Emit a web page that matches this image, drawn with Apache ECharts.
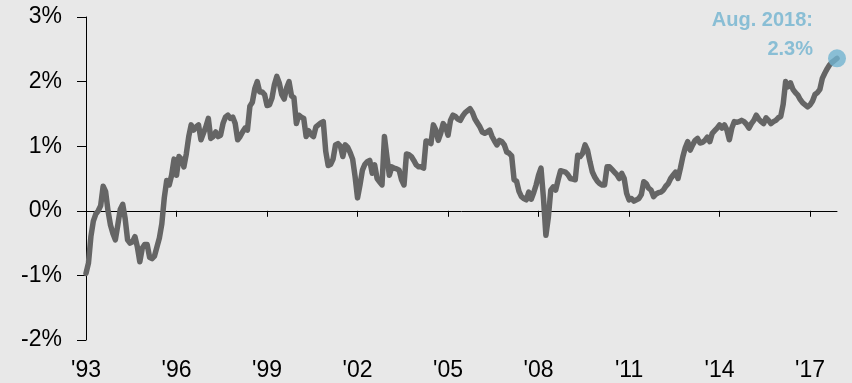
<!DOCTYPE html>
<html>
<head>
<meta charset="utf-8">
<script src="https://cdn.jsdelivr.net/npm/echarts@6/dist/echarts.min.js"></script>
<style>
  html, body { margin: 0; padding: 0; background: #e8e8e8; }
  #chart { width: 852px; height: 383px; }
</style>
</head>
<body>
<div id="chart"></div>
<script>
// monthly, Jan 1993 .. Aug 2018
var startYear = 1993;
var monthCount = 308;
var categories = [];
for (var k = 0; k < monthCount; k++) {
    var yy = startYear + Math.floor(k / 12);
    var mm = (k % 12) + 1;
    categories.push(yy + '-' + (mm < 10 ? '0' + mm : mm));
}

var tickLabels = ["'93", "'96", "'99", "'02", "'05", "'08", "'11", "'14", "'17"];
var tickEvery = 37;

var values = [
    -0.97, -0.81, -0.40, -0.16, -0.05, 0.00, 0.08, 0.38, 0.30, 0.00, -0.22, -0.35,   // 1993
    -0.45, -0.22, 0.02, 0.10, -0.12, -0.45, -0.50, -0.48, -0.40, -0.56, -0.79, -0.58, // 1994
    -0.52, -0.52, -0.72, -0.74, -0.70, -0.56, -0.42, -0.20, 0.20, 0.47, 0.40, 0.55,  // 1995
    0.80, 0.55, 0.84, 0.80, 0.68, 0.88, 1.15, 1.33, 1.25, 1.30, 1.33, 1.10,          // 1996
    1.20, 1.30, 1.43, 1.12, 1.15, 1.22, 1.15, 1.17, 1.35, 1.45, 1.48, 1.43,          // 1997
    1.45, 1.35, 1.10, 1.15, 1.22, 1.28, 1.25, 1.62, 1.68, 1.89, 2.00, 1.84,          // 1998
    1.84, 1.80, 1.63, 1.64, 1.74, 1.95, 2.08, 1.98, 1.80, 1.73, 1.90, 2.00,          // 1999
    1.78, 1.75, 1.35, 1.48, 1.45, 1.43, 1.15, 1.24, 1.18, 1.15, 1.30, 1.33,          // 2000
    1.36, 1.38, 0.92, 0.70, 0.72, 0.80, 1.02, 1.04, 1.00, 0.84, 1.02, 0.98,          // 2001
    0.90, 0.80, 0.53, 0.20, 0.40, 0.63, 0.72, 0.76, 0.78, 0.58, 0.71, 0.50,          // 2002
    0.45, 0.40, 1.15, 0.84, 0.55, 0.68, 0.66, 0.65, 0.63, 0.48, 0.40, 0.88,          // 2003
    0.87, 0.84, 0.78, 0.71, 0.68, 0.68, 0.66, 1.08, 1.07, 1.04, 1.33, 1.25,          // 2004
    1.09, 1.20, 1.35, 1.30, 1.17, 1.40, 1.48, 1.46, 1.42, 1.40, 1.47, 1.52,          // 2005
    1.55, 1.58, 1.52, 1.42, 1.36, 1.30, 1.22, 1.20, 1.22, 1.25, 1.15, 1.08,          // 2006
    1.02, 1.09, 1.07, 1.02, 0.91, 0.89, 0.85, 0.48, 0.46, 0.30, 0.22, 0.19,          // 2007
    0.17, 0.29, 0.18, 0.28, 0.40, 0.55, 0.66, 0.20, -0.38, -0.10, 0.32, 0.37,        // 2008
    0.32, 0.48, 0.62, 0.61, 0.60, 0.56, 0.50, 0.49, 0.48, 0.86, 0.84, 0.89,          // 2009
    1.02, 0.94, 0.76, 0.60, 0.52, 0.46, 0.42, 0.40, 0.40, 0.68, 0.68, 0.64,          // 2010
    0.60, 0.56, 0.50, 0.58, 0.50, 0.27, 0.17, 0.19, 0.15, 0.17, 0.19, 0.25,          // 2011
    0.45, 0.42, 0.35, 0.32, 0.22, 0.26, 0.28, 0.29, 0.32, 0.38, 0.42, 0.50,          // 2012
    0.55, 0.60, 0.50, 0.66, 0.84, 0.98, 1.07, 0.94, 1.02, 1.09, 1.12, 1.05,          // 2013
    1.06, 1.09, 1.14, 1.07, 1.20, 1.24, 1.28, 1.33, 1.28, 1.33, 1.25, 1.10,          // 2014
    1.28, 1.38, 1.37, 1.38, 1.40, 1.38, 1.34, 1.28, 1.35, 1.40, 1.48, 1.42,          // 2015
    1.38, 1.35, 1.44, 1.40, 1.35, 1.38, 1.40, 1.44, 1.46, 1.65, 2.00, 1.92,          // 2016
    1.98, 1.88, 1.83, 1.79, 1.72, 1.67, 1.64, 1.61, 1.64, 1.70, 1.80, 1.83,          // 2017
    1.88, 2.05, 2.13, 2.20, 2.26, 2.30, 2.33, 2.36                                   // 2018
];

var lastLabel = 'Aug. 2018:\n2.3%';

var myChart = echarts.init(document.getElementById('chart'));
var lastIdx = values.length - 1;
var axisFont = 'Liberation Sans, Arial, sans-serif';

var option = {
    backgroundColor: '#e8e8e8',
    animation: false,
    grid: { left: 86, right: 15, top: 17, bottom: 43 },
    xAxis: [
        {
            type: 'category',
            data: categories,
            boundaryGap: false,
            axisLine: { onZero: true, lineStyle: { color: '#000', width: 1 } },
            axisTick: {
                show: true,
                length: 6,
                interval: function (index) { return index % tickEvery === 0 && index > 0; },
                lineStyle: { color: '#000' }
            },
            axisLabel: { show: false },
            splitLine: { show: false }
        },
        {
            type: 'category',
            data: categories,
            boundaryGap: false,
            position: 'bottom',
            axisLine: { show: false, onZero: false },
            axisTick: { show: false },
            axisLabel: {
                interval: function (index) { return index % tickEvery === 0; },
                formatter: function (value, index) { return tickLabels[index / tickEvery] || ''; },
                margin: 19,
                fontSize: 23,
                color: '#000',
                fontFamily: axisFont
            },
            splitLine: { show: false }
        }
    ],
    yAxis: {
        type: 'value',
        min: -2,
        max: 3,
        interval: 1,
        axisLine: { show: true, onZero: false, lineStyle: { color: '#000', width: 1 } },
        axisTick: { show: true, length: 9, lineStyle: { color: '#000' } },
        axisLabel: {
            formatter: '{value}%',
            margin: 24,
            fontSize: 23,
            color: '#000',
            fontFamily: axisFont
        },
        splitLine: { show: false }
    },
    series: [
        {
            type: 'line',
            xAxisIndex: 0,
            data: values,
            symbol: 'none',
            smooth: false,
            lineStyle: { color: '#656565', width: 5.5, join: 'round', cap: 'round' },
            z: 2
        },
        {
            type: 'scatter',
            xAxisIndex: 0,
            data: [[categories[lastIdx], values[lastIdx]]],
            symbol: 'circle',
            symbolSize: 18,
            itemStyle: { color: '#71b3d0' },
            label: {
                show: true,
                position: 'left',
                distance: 15,
                align: 'right',
                verticalAlign: 'bottom',
                offset: [0, 6],
                formatter: lastLabel,
                color: '#71b3d0',
                fontSize: 20,
                fontWeight: 'bold',
                lineHeight: 29,
                fontFamily: axisFont
            },
            z: 3
        }
    ]
};
myChart.setOption(option);
</script>
</body>
</html>
